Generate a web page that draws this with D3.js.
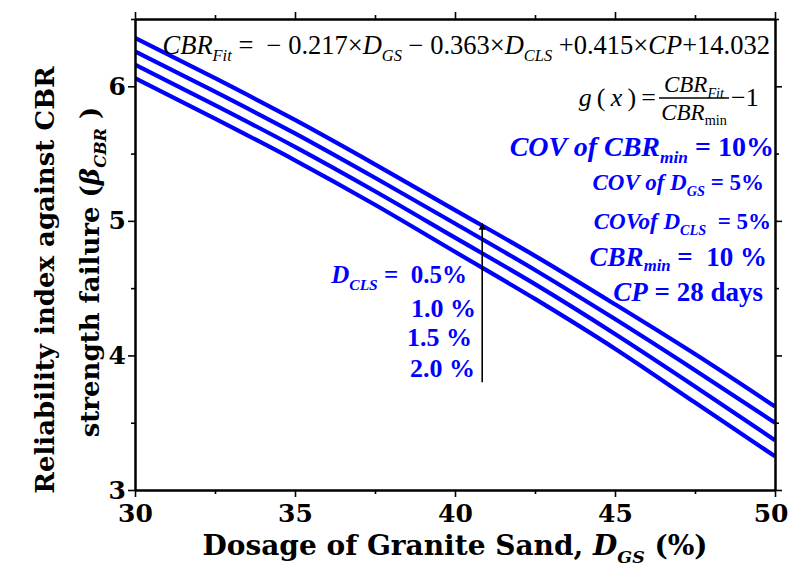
<!DOCTYPE html>
<html>
<head>
<meta charset="utf-8">
<script src="https://cdn.jsdelivr.net/npm/d3@7"></script>
<style>
  html, body { margin: 0; padding: 0; background: #fff; }
  svg { display: block; }
  svg text { white-space: pre; }
</style>
</head>
<body>
<svg id="chart" width="788" height="568"></svg>
<script>
// Dosage of granite sand (%) at which the reliability index is read
const dgs = [30, 32.5, 35, 37.5, 40, 42.5, 45, 47.5, 50];
// Reliability index beta_CBR for each lime-sludge dosage D_CLS
const betaCls05 = [6.36, 6.06, 5.75, 5.42, 5.08, 4.74, 4.38, 4.01, 3.62];
const betaCls10 = [6.26, 5.96, 5.65, 5.32, 4.98, 4.635, 4.27, 3.89, 3.50];
const betaCls15 = [6.16, 5.86, 5.55, 5.22, 4.875, 4.53, 4.16, 3.77, 3.37];
const betaCls20 = [6.06, 5.76, 5.45, 5.12, 4.77, 4.42, 4.05, 3.65, 3.25];
const seriesList = [betaCls05, betaCls10, betaCls15, betaCls20];
const clsLabels = ["0.5%", "1.0 %", "1.5 %", "2.0 %"];

const xTickValues = [30, 35, 40, 45, 50];
const yTickValues = [3, 4, 5, 6];
const xMinorValues = [32.5, 37.5, 42.5, 47.5];
const yMinorValues = [3.5, 4.5, 5.5, 6.5];

// Arrow showing increasing D_CLS direction
const arrowX = 40.85;
const arrowFrom = 3.8;
const arrowTo = 4.98;

const W = 788, H = 568;
const margin = { left: 135, right: 13, top: 19, bottom: 78 };
const svg = d3.select("#chart");

const x = d3.scaleLinear().domain([30, 50]).range([margin.left, W - margin.right]);
const y = d3.scaleLinear().domain([3, 6.5]).range([H - margin.bottom, margin.top]);

const BLUE = "#0000ff";
const SERIF = "'Liberation Serif', 'Times New Roman', serif";
const WIDE = "'DejaVu Serif', serif";

// Lines
const line = d3.line()
  .x((d, i) => x(dgs[i]))
  .y(d => y(d))
  .curve(d3.curveMonotoneX);

svg.append("clipPath").attr("id", "plotClip")
  .append("rect")
  .attr("x", margin.left).attr("y", margin.top)
  .attr("width", W - margin.left - margin.right)
  .attr("height", H - margin.top - margin.bottom);

svg.append("g").attr("clip-path", "url(#plotClip)")
  .selectAll("path")
  .data(seriesList)
  .join("path")
  .attr("d", line)
  .attr("fill", "none")
  .attr("stroke", BLUE)
  .attr("stroke-width", 4.2);

// Axes: frame with outward ticks on all four sides
function styleAxis(g) {
  g.selectAll(".domain").attr("stroke", "#000").attr("stroke-width", 2);
  g.selectAll(".tick line").attr("stroke", "#000").attr("stroke-width", 1.6);
}
const tickFont = g => g.selectAll(".tick text")
  .attr("font-family", WIDE).attr("font-weight", "bold")
  .attr("font-size", 25).attr("fill", "#000");

const xb = svg.append("g").attr("transform", `translate(0,${y(3)})`)
  .call(d3.axisBottom(x).tickValues(xTickValues).tickSize(7).tickSizeOuter(0).tickPadding(7).tickFormat(d3.format("d")));
styleAxis(xb); tickFont(xb);
// keep the last label inside the canvas
xb.selectAll(".tick text").filter(d => d === 50).attr("text-anchor", "end").attr("x", 13);
const xbm = svg.append("g").attr("transform", `translate(0,${y(3)})`)
  .call(d3.axisBottom(x).tickValues(xMinorValues).tickSize(4).tickSizeOuter(0).tickFormat(""));
styleAxis(xbm);

const xt = svg.append("g").attr("transform", `translate(0,${y(6.5)})`)
  .call(d3.axisTop(x).tickValues(xTickValues).tickSize(7).tickSizeOuter(0).tickFormat(""));
styleAxis(xt);
const xtm = svg.append("g").attr("transform", `translate(0,${y(6.5)})`)
  .call(d3.axisTop(x).tickValues(xMinorValues).tickSize(4).tickSizeOuter(0).tickFormat(""));
styleAxis(xtm);

const yl = svg.append("g").attr("transform", `translate(${x(30)},0)`)
  .call(d3.axisLeft(y).tickValues(yTickValues).tickSize(7).tickSizeOuter(0).tickPadding(2).tickFormat(d3.format("d")));
styleAxis(yl); tickFont(yl);
const ylm = svg.append("g").attr("transform", `translate(${x(30)},0)`)
  .call(d3.axisLeft(y).tickValues(yMinorValues).tickSize(4).tickSizeOuter(0).tickFormat(""));
styleAxis(ylm);

const yr = svg.append("g").attr("transform", `translate(${x(50)},0)`)
  .call(d3.axisRight(y).tickValues(yTickValues).tickSize(7).tickSizeOuter(0).tickFormat(""));
styleAxis(yr);
const yrm = svg.append("g").attr("transform", `translate(${x(50)},0)`)
  .call(d3.axisRight(y).tickValues(yMinorValues).tickSize(4).tickSizeOuter(0).tickFormat(""));
styleAxis(yrm);

// Rich text helper: segments of {t, it, sub}
function rich(parent, px, py, anchor, size, segs, opts = {}) {
  const t = parent.append("text")
    .attr("x", px).attr("y", py)
    .attr("text-anchor", anchor)
    .attr("font-family", opts.family || SERIF)
    .attr("font-size", size)
    .attr("font-weight", opts.weight || "normal")
    .attr("fill", opts.fill || "#000");
  if (opts.transform) t.attr("transform", opts.transform);
  let shift = 0;
  segs.forEach(s => {
    const target = s.sub ? size * (s.subDrop || 0.28) : 0;
    const ts = t.append("tspan").text(s.t);
    ts.attr("dy", target - shift);
    shift = target;
    if (s.sub) ts.attr("font-size", size * (s.scale || 0.62));
    if (s.it) ts.attr("font-style", "italic");
    if (s.w) ts.attr("font-weight", s.w);
  });
  return t;
}

// Fitted CBR model
rich(svg, 770, 54, "end", 26.5, [
  { t: "CBR", it: true }, { t: "Fit", it: true, sub: true },
  { t: " =  \u2212 0.217\u00D7" }, { t: "D", it: true }, { t: "GS", it: true, sub: true },
  { t: " \u2212 0.363\u00D7" }, { t: "D", it: true }, { t: "CLS", it: true, sub: true },
  { t: " +0.415\u00D7" }, { t: "CP", it: true }, { t: "+14.032" }
]);

// Limit-state function g(x)
rich(svg, 656, 106, "end", 26, [
  { t: "g", it: true }, { t: "\u2009(\u2009" }, { t: "x", it: true }, { t: "\u2009)\u2009=" }
]);
svg.append("line").attr("x1", 659).attr("x2", 729).attr("y1", 98).attr("y2", 98)
  .attr("stroke", "#000").attr("stroke-width", 1.3);
rich(svg, 694, 92, "middle", 23, [{ t: "CBR", it: true }, { t: "Fit", it: true, sub: true }]);
rich(svg, 694, 120, "middle", 23, [{ t: "CBR", it: true }, { t: "min", sub: true, subDrop: 0.2 }]);
rich(svg, 731, 106, "start", 26, [{ t: "\u22121" }]);

// Parameter annotations
const blue = { fill: BLUE, weight: "bold" };
rich(svg, 774, 156, "end", 28, [
  { t: "COV of ", it: true }, { t: "CBR", it: true }, { t: "min", it: true, sub: true, subDrop: 0.24 },
  { t: " = 10%" }
], blue);
rich(svg, 764, 190, "end", 23, [
  { t: "COV of ", it: true }, { t: "D", it: true }, { t: "GS", it: true, sub: true },
  { t: " = 5%" }
], blue);
rich(svg, 771, 229, "end", 23, [
  { t: "COVof ", it: true }, { t: "D", it: true }, { t: "CLS", it: true, sub: true },
  { t: "  = 5%" }
], blue);
rich(svg, 767, 266, "end", 27, [
  { t: "CBR", it: true }, { t: "min", it: true, sub: true, subDrop: 0.2 }, { t: " =  10 %" }
], blue);
rich(svg, 763, 301, "end", 27, [
  { t: "CP", it: true }, { t: " = 28 days" }
], blue);

// D_CLS legend labels
rich(svg, 467, 283, "end", 25, [
  { t: "D", it: true }, { t: "CLS", it: true, sub: true }, { t: " =  " + clsLabels[0] }
], blue);
const clsBaselines = [317, 346, 377];
const clsRight = [476, 472, 475];
clsLabels.slice(1).forEach((lab, i) => {
  rich(svg, clsRight[i], clsBaselines[i], "end", 26, [{ t: lab }], blue);
});

// Arrow
svg.append("defs").append("marker")
  .attr("id", "arrowHead").attr("viewBox", "0 0 10 10")
  .attr("refX", 9).attr("refY", 5)
  .attr("markerWidth", 7).attr("markerHeight", 8)
  .attr("markerUnits", "userSpaceOnUse")
  .attr("orient", "auto")
  .append("path").attr("d", "M0,0 L10,5 L0,10 Z").attr("fill", "#000");
svg.append("line")
  .attr("x1", x(arrowX)).attr("x2", x(arrowX))
  .attr("y1", y(arrowFrom)).attr("y2", y(arrowTo))
  .attr("stroke", "#000").attr("stroke-width", 1.6)
  .attr("marker-end", "url(#arrowHead)");

// Axis titles
rich(svg, 455, 555, "middle", 28, [
  { t: "Dosage of Granite Sand, " }, { t: "D", it: true }, { t: "GS", it: true, sub: true, subDrop: 0.28 },
  { t: " (%)" }
], { weight: "bold", family: WIDE });

rich(svg, 0, 0, "middle", 26, [{ t: "Reliability index against CBR" }],
  { weight: "bold", family: WIDE, transform: "translate(54,280) rotate(-90)" });
rich(svg, 0, 0, "middle", 26, [
  { t: "strength failure (" }, { t: "\u03B2", it: true }, { t: "CBR", sub: true, it: true },
  { t: " )" }
], { weight: "bold", family: WIDE, transform: "translate(99,272) rotate(-90)" });
</script>
</body>
</html>
